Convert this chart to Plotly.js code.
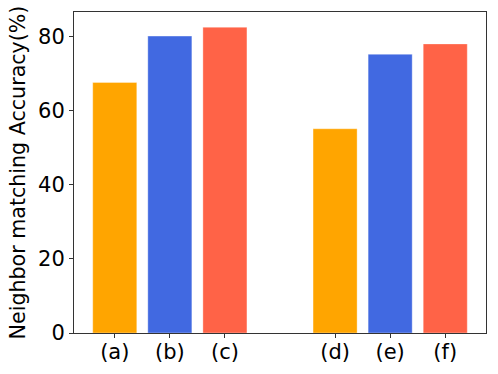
<!DOCTYPE html>
<html>
<head>
<meta charset="utf-8">
<script src="https://cdn.plot.ly/plotly-3.0.1.min.js"></script>
<style>
  html, body { margin: 0; padding: 0; background: #fff; }
  #chart { width: 498px; height: 374px; }
</style>
</head>
<body>
<div id="chart"></div>
<script>
// bar labels, their slot on the x axis (gap between the two groups) and values
var labels = ['(a)', '(b)', '(c)', '(d)', '(e)', '(f)'];
var slots = [0, 1, 2, 4, 5, 6];
var accuracy = [67.6, 80.1, 82.5, 55.1, 75.2, 78.0];
var colors = ['#FFA500', '#4169E1', '#FF6347', '#FFA500', '#4169E1', '#FF6347'];

var data = [{
    x: slots,
    y: accuracy,
    type: 'bar',
    width: 0.8,
    marker: {
        color: colors,
        line: { color: 'rgba(255,255,255,0.35)', width: 1 }
    },
    hoverinfo: 'none'
}];

var layout = {
    width: 498,
    height: 374,
    margin: { l: 74, r: 12, t: 12, b: 41 },
    paper_bgcolor: '#fff',
    plot_bgcolor: '#fff',
    showlegend: false,
    font: { family: 'DejaVu Sans', size: 21, color: '#000' },
    xaxis: {
        range: [-0.74, 6.74],
        tickvals: slots,
        ticktext: labels,
        ticks: 'outside',
        ticklen: 4,
        tickcolor: '#333',
        ticklabelstandoff: -4,
        showgrid: false,
        zeroline: false,
        showline: true,
        mirror: true,
        linecolor: '#333',
        linewidth: 1,
        tickfont: { size: 21 }
    },
    yaxis: {
        range: [0, 86.6],
        tickvals: [0, 20, 40, 60, 80],
        ticks: 'outside',
        ticklen: 4,
        tickcolor: '#333',
        showgrid: false,
        zeroline: false,
        showline: true,
        mirror: true,
        linecolor: '#333',
        linewidth: 1,
        tickfont: { size: 21 },
        title: { text: 'Neighbor matching Accuracy(%)', font: { size: 20.6 }, standoff: 6 }
    }
};

Plotly.newPlot('chart', data, layout, { displayModeBar: false, staticPlot: true });
</script>
</body>
</html>
